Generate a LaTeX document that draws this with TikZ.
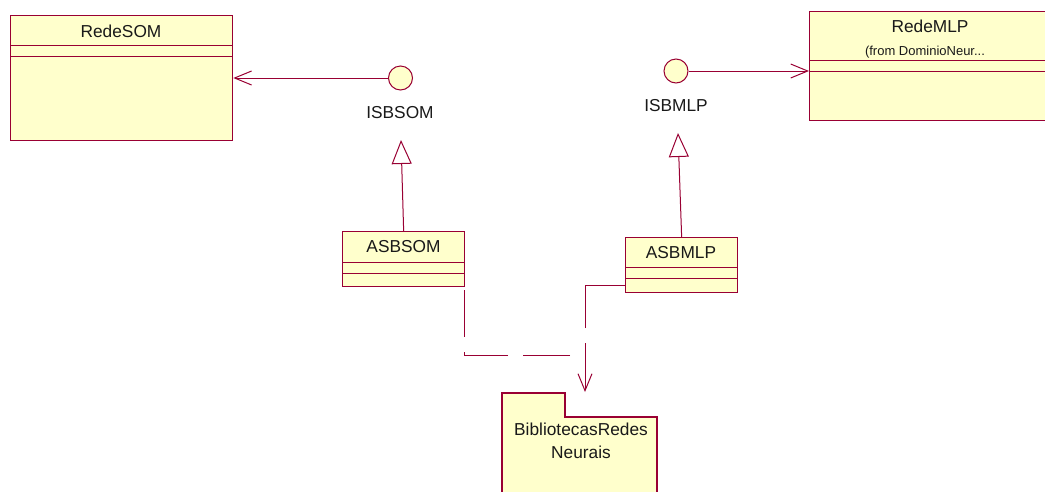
\documentclass[tikz,border=0pt]{standalone}
\usepackage{fontspec}
\setmainfont{Liberation Sans}
\usetikzlibrary{arrows.meta}
\definecolor{umlline}{RGB}{153,0,51}
\definecolor{umlfill}{RGB}{255,255,204}
\definecolor{umltext}{RGB}{25,25,25}
\begin{document}
\begin{tikzpicture}[x=1pt,y=-1pt,
  classbox/.style={draw=umlline, fill=umlfill, line width=1.3pt, rectangle, inner sep=0, anchor=north west},
  compline/.style={draw=umlline, line width=1pt},
  lbl/.style={inner sep=0, text=umltext, font=\fontsize{17.3}{20}\selectfont},
  smalllbl/.style={inner sep=0, text=umltext, font=\fontsize{13}{15}\selectfont},
  iface/.style={circle, draw=umlline, fill=umlfill, line width=1pt, minimum size=24pt, inner sep=0},
  assoc/.style={draw=umlline, line width=1pt, -{Straight Barb[length=17pt, width=14pt, line width=1pt]}},
  realize/.style={draw=umlline, line width=1pt, -{Triangle[open, length=24pt, width=20pt, line width=1pt, fill=white]}},
  depend/.style={draw=umlline, line width=1pt, dash pattern=on 47pt off 15pt},
  barb/.tip={Straight Barb[length=17pt, width=14pt, line width=1pt]},
]
\useasboundingbox (0,0) rectangle (1045,491);
\clip (0,0) rectangle (1045,491);

% classes
\node[classbox, minimum width=222pt, minimum height=125pt] (redesom) at (10,15) {};
\draw[compline] (redesom.west |- 0,45) -- (redesom.east |- 0,45);
\draw[compline] (redesom.west |- 0,56) -- (redesom.east |- 0,56);
\node[lbl] (redesomname) at (121,31) {RedeSOM};

\node[classbox, minimum width=243pt, minimum height=109pt] (redemlp) at (809,11) {};
\draw[compline] (redemlp.west |- 0,60) -- (redemlp.east |- 0,60);
\draw[compline] (redemlp.west |- 0,71) -- (redemlp.east |- 0,71);
\node[lbl] (redemlpname) at (930,26) {RedeMLP};
\node[smalllbl] (redemlpfrom) at (925,52) {(from DominioNeur...};

\node[classbox, minimum width=122pt, minimum height=55pt] (asbsom) at (342,231) {};
\draw[compline] (asbsom.west |- 0,262) -- (asbsom.east |- 0,262);
\draw[compline] (asbsom.west |- 0,273) -- (asbsom.east |- 0,273);
\node[lbl] (asbsomname) at (403.5,246.5) {ASBSOM};

\node[classbox, minimum width=112pt, minimum height=55pt] (asbmlp) at (625,237) {};
\draw[compline] (asbmlp.west |- 0,267) -- (asbmlp.east |- 0,267);
\draw[compline] (asbmlp.west |- 0,278) -- (asbmlp.east |- 0,278);
\node[lbl] (asbmlpname) at (681,252.5) {ASBMLP};

% interfaces
\node[iface] (isbsom) at (400.5,78) {};
\node[lbl] (isbsomname) at (400,113) {ISBSOM};
\node[iface] (isbmlp) at (676,71) {};
\node[lbl] (isbmlpname) at (676,106) {ISBMLP};

% package
\draw[draw=umlline, fill=umlfill, line width=1.3pt]
  (502,496) -- (502,393) -- (565,393) -- (565,417) -- (657,417) -- (657,496);
\node[lbl, font=\fontsize{17.3}{22.5}\selectfont, align=center] (pkgname) at (581,441) {BibliotecasRedes\\Neurais};

% associations
\draw[assoc] (isbsom.west) -- (isbsom.west -| redesom.east);
\draw[assoc] (isbmlp.east) -- (isbmlp.east -| redemlp.west);

% realizations
\coordinate (tipsom) at (401,140);
\coordinate (tipmlp) at (678,133);
\draw[realize] (asbsom.north) -- (tipsom);
\draw[realize] (asbmlp.north) -- (tipmlp);

% dependencies on the package
\coordinate (deptip) at (585,392);
\coordinate (depjoin) at (585,355);
\draw[depend, dash pattern=on 47pt off 15pt on 120pt off 15pt, barb-] (deptip) |- ([yshift=8pt]asbmlp.south west);
\draw[depend, dash phase=47pt] (depjoin) -| ([xshift=-1pt]asbsom.south east);
\end{tikzpicture}
\end{document}
